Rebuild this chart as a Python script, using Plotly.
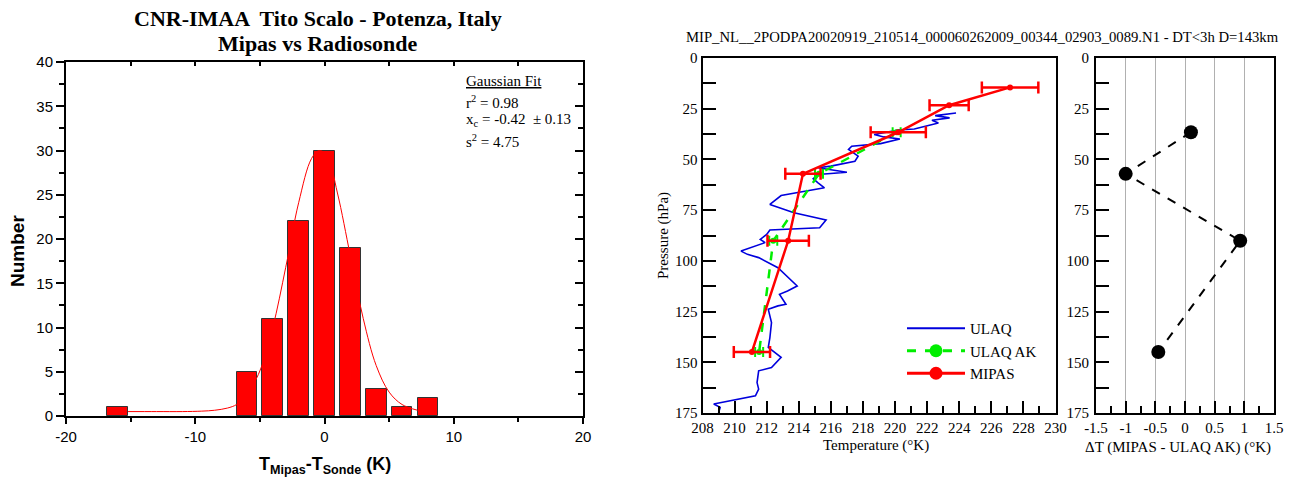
import plotly.graph_objects as go

# ---------------- Left panel: histogram ----------------
bin_centers = [-16, -6, -4, -2, 0, 2, 4, 6, 8]
counts = [1, 5, 11, 22, 30, 19, 3, 1, 2]
fit_x = [-15.2, -13, -11, -9.5, -8.5, -7.5, -6.8, -6, -5, -4, -3, -2, -1, -0.4,
         0.2, 1, 2, 3, 4, 5, 6, 7.2]
fit_y = [0.5, 0.5, 0.5, 0.55, 0.65, 0.9, 1.3, 2.4, 5.1, 10.0, 16.8, 24.1, 29.1, 30.0,
         29.4, 25.2, 18.1, 11.0, 5.7, 2.7, 1.3, 0.65]
hist_xticks = [-20, -10, 0, 10, 20]
hist_xticktext = ["-20", "-10", "0", "10", "20"]

# ---------------- Middle panel: temperature profiles ----------------
ulaq_T = [223.8, 222.5, 223.4, 222.3, 222.7, 221.2, 220.2, 218.7, 219.3, 220.3,
          219.1, 217.3, 217.1, 217.7, 217.5, 216.0, 215.2, 217.0, 215.2, 214.9,
          215.2, 215.6, 212.9, 212.2, 213.7, 215.7, 215.3, 212.2, 212.0, 211.6,
          211.9, 210.4, 210.8, 211.5, 212.7, 213.9, 213.3, 212.8, 213.2, 212.7,
          212.1, 212.3, 212.2, 212.1, 212.9, 212.3, 211.5, 211.4, 211.5, 211.3,
          208.7, 209.1, 209.0]
ulaq_P = [27.1, 28.4, 29.5, 30.7, 32.0, 35.0, 35.5, 37.7, 38.9, 39.9,
          42.2, 43.5, 45.1, 48.4, 50.9, 53.3, 54.1, 56.3, 57.4, 59.5,
          61.5, 64.0, 67.8, 72.2, 76.3, 79.9, 83.7, 84.8, 87.0, 89.4,
          91.0, 95.2, 96.8, 98.4, 103.4, 112.4, 114.9, 116.5, 121.4, 122.2,
          123.9, 130.4, 137.8, 142.7, 147.6, 152.6, 154.2, 160.0, 163.2, 166.5,
          170.6, 172.2, 175.0]

mipas_P = [14.5, 23.3, 36.6, 57.1, 90.1, 144.9]
mipas_T = [227.17, 223.37, 220.2, 214.26, 213.34, 211.08]
mipas_err = [1.76, 1.22, 1.72, 1.1, 1.29, 1.13]

ak_P = [36.6, 57.1, 90.1, 144.9]
ak_T = [220.1, 215.26, 212.41, 211.53]
ak_err = [0.25, 0.25, 0.25, 0.25]

temp_ticks = [208, 210, 212, 214, 216, 218, 220, 222, 224, 226, 228, 230]
p_ticks = [0, 25, 50, 75, 100, 125, 150, 175]

# ---------------- Right panel: differences ----------------
dT = [0.1, -1.0, 0.93, -0.45]
dT_P = [36.6, 57.1, 90.1, 144.9]
dT_ticks = [-1.5, -1, -0.5, 0, 0.5, 1, 1.5]
dT_ticktext = ["-1.5", "-1", "-0.5", "0", "0.5", "1", "1.5"]

RED = "#ff0000"
GREEN = "#00ee00"
BLUE = "#0000dd"
SANS = "Liberation Sans, Arial, sans-serif"
SERIF = "Liberation Serif, Times New Roman, serif"

fig = go.Figure()

fig.add_trace(go.Bar(x=bin_centers, y=counts, width=1.6,
                     marker=dict(color=RED, line=dict(color="#333333", width=1)),
                     xaxis="x", yaxis="y", showlegend=False))
fig.add_trace(go.Scatter(x=fit_x, y=fit_y, mode="lines",
                         line=dict(color=RED, width=1, shape="spline"),
                         xaxis="x", yaxis="y", showlegend=False))
# invisible helper trace for mirrored tick axes
fig.add_trace(go.Scatter(x=[None], y=[None], mode="markers", xaxis="x2", yaxis="y2",
                         showlegend=False, hoverinfo="skip"))

fig.add_trace(go.Scatter(x=ulaq_T, y=ulaq_P, mode="lines",
                         line=dict(color=BLUE, width=1.6),
                         xaxis="x3", yaxis="y3", showlegend=False))
fig.add_trace(go.Scatter(x=ak_T, y=ak_P, mode="lines+markers",
                         line=dict(color=GREEN, width=2.5, dash="dash"),
                         marker=dict(color=GREEN, size=6),
                         error_x=dict(type="data", array=ak_err, color=GREEN,
                                      thickness=2, width=5),
                         xaxis="x3", yaxis="y3", showlegend=False))
fig.add_trace(go.Scatter(x=mipas_T, y=mipas_P, mode="lines+markers",
                         line=dict(color=RED, width=2.5),
                         marker=dict(color=RED, size=6),
                         error_x=dict(type="data", array=mipas_err, color=RED,
                                      thickness=2.5, width=6),
                         xaxis="x3", yaxis="y3", showlegend=False))

# legend entries
fig.add_trace(go.Scatter(x=[None], y=[None], mode="lines", name="ULAQ",
                         line=dict(color=BLUE, width=2), xaxis="x3", yaxis="y3"))
fig.add_trace(go.Scatter(x=[None], y=[None], mode="lines+markers", name="ULAQ AK",
                         line=dict(color=GREEN, width=3, dash="dash"),
                         marker=dict(color=GREEN, size=13), xaxis="x3", yaxis="y3"))
fig.add_trace(go.Scatter(x=[None], y=[None], mode="lines+markers", name="MIPAS",
                         line=dict(color=RED, width=3),
                         marker=dict(color=RED, size=13), xaxis="x3", yaxis="y3"))

fig.add_trace(go.Scatter(x=dT, y=dT_P, mode="lines+markers",
                         line=dict(color="black", width=2, dash="dash"),
                         marker=dict(color="black", size=14),
                         xaxis="x4", yaxis="y4", showlegend=False))

W, H = 1290, 481
def px(x):
    return x / W
def py(y):
    return 1 - y / H

left_dom = [px(66), px(583)]
left_ydom = [py(416), py(62)]
mid_dom = [px(702.5), px(1055.5)]
right_dom = [px(1096), px(1274)]
prof_ydom = [py(413), py(58)]

axis_common = dict(showgrid=False, zeroline=False, showline=True, linecolor="black",
                   linewidth=2, tickcolor="black", automargin=False)

fig.update_layout(
    width=W, height=H,
    margin=dict(l=0, r=0, t=0, b=0, pad=0, autoexpand=False),
    paper_bgcolor="white", plot_bgcolor="white",
    bargap=0,
    xaxis=dict(domain=left_dom, range=[-20, 20], anchor="y", mirror=True,
               tickmode="array", tickvals=hist_xticks, ticktext=hist_xticktext,
               ticks="outside", ticklen=6, tickwidth=2,
               minor=dict(tickmode="linear", tick0=-20, dtick=5, ticks="outside",
                          ticklen=4, tickwidth=1.5, tickcolor="black"),
               tickfont=dict(family=SANS, size=15, color="black"), **axis_common),
    yaxis=dict(domain=left_ydom, range=[0, 40], anchor="x", mirror=True,
               tickmode="linear", tick0=0, dtick=5,
               ticks="outside", ticklen=8, tickwidth=2,
               minor=dict(tickmode="linear", tick0=0, dtick=2.5, ticks="outside",
                          ticklen=5, tickwidth=1.5, tickcolor="black"),
               tickfont=dict(family=SANS, size=15, color="black"), **axis_common),
    xaxis2=dict(overlaying="x", side="top", anchor="y2", range=[-20, 20],
                tickmode="linear", tick0=-20, dtick=5, ticks="inside", ticklen=4,
                tickwidth=1.5, tickcolor="black", showticklabels=False,
                showline=False, showgrid=False, zeroline=False, automargin=False),
    yaxis2=dict(overlaying="y", side="right", anchor="x2", range=[0, 40],
                tickmode="linear", tick0=0, dtick=5, ticks="inside", ticklen=8,
                tickwidth=2, tickcolor="black", showticklabels=False,
                minor=dict(tickmode="linear", tick0=0, dtick=2.5, ticks="inside",
                           ticklen=5, tickwidth=1.5, tickcolor="black"),
                showline=False, showgrid=False, zeroline=False, automargin=False),
    xaxis3=dict(domain=mid_dom, range=[208, 230], anchor="y3", mirror=True,
                tickmode="array", tickvals=temp_ticks,
                ticks="inside", ticklen=12, tickwidth=2,
                minor=dict(tickmode="linear", tick0=208, dtick=1, ticks="inside",
                           ticklen=7, tickwidth=2, tickcolor="black"),
                ticklabelstandoff=0,
                tickfont=dict(family=SERIF, size=15, color="black"), **axis_common),
    yaxis3=dict(domain=prof_ydom, range=[175, 0], anchor="x3", mirror=True,
                tickmode="array", tickvals=p_ticks,
                ticks="inside", ticklen=13, tickwidth=2,
                minor=dict(tickmode="linear", tick0=0, dtick=12.5, ticks="inside",
                           ticklen=13, tickwidth=2, tickcolor="black"),
                tickfont=dict(family=SERIF, size=15, color="black"), **axis_common),
    xaxis4=dict(domain=right_dom, range=[-1.5, 1.5], anchor="y4", mirror=True,
                tickmode="array", tickvals=dT_ticks, ticktext=dT_ticktext,
                ticks="inside", ticklen=12, tickwidth=2,
                minor=dict(tickmode="linear", tick0=-1.5, dtick=0.25, ticks="inside",
                           ticklen=7, tickwidth=2, tickcolor="black"),
                ticklabelstandoff=0,
                tickfont=dict(family=SERIF, size=15, color="black"),
                showgrid=True, gridcolor="#b0b0b0", gridwidth=1,
                zeroline=False, showline=True, linecolor="black", linewidth=2,
                tickcolor="black", automargin=False),
    yaxis4=dict(domain=prof_ydom, range=[175, 0], anchor="x4", mirror=True,
                tickmode="array", tickvals=p_ticks,
                ticks="inside", ticklen=13, tickwidth=2,
                minor=dict(tickmode="linear", tick0=0, dtick=12.5, ticks="inside",
                           ticklen=13, tickwidth=2, tickcolor="black"),
                ticklabelstandoff=2,
                tickfont=dict(family=SERIF, size=15, color="black"), **axis_common),
    legend=dict(x=px(902), y=py(312), xanchor="left", yanchor="top",
                bgcolor="rgba(0,0,0,0)", itemwidth=58, tracegroupgap=0,
                font=dict(family=SERIF, size=15, color="black")),
)

ann = []
ann.append(dict(text="<b>CNR-IMAA  Tito Scalo - Potenza, Italy</b>", x=px(318), y=py(18),
                font=dict(family=SERIF, size=22, color="black")))
ann.append(dict(text="<b>Mipas vs Radiosonde</b>", x=px(318), y=py(43),
                font=dict(family=SERIF, size=22, color="black")))
ann.append(dict(text="<b>Number</b>", x=px(17), y=py(251), textangle=-90,
                font=dict(family=SANS, size=19, color="black")))
ann.append(dict(text="<b>T<sub>Mipas</sub>-T<sub>Sonde</sub> (K)</b>", x=px(325), y=py(465),
                font=dict(family=SANS, size=18, color="black")))
gauss_lines = ["<u>Gaussian Fit</u>", "r<sup>2</sup> = 0.98",
               "x<sub>c</sub> = -0.42  ± 0.13", "s<sup>2</sup> = 4.75"]
gauss_y = [81, 102, 120, 141]
for t, yy in zip(gauss_lines, gauss_y):
    ann.append(dict(text=t, x=px(464), y=py(yy), xanchor="left",
                    font=dict(family=SERIF, size=15, color="black")))
ann.append(dict(text="MIP_NL__2PODPA20020919_210514_000060262009_00344_02903_0089.N1 - DT<3h D=143km",
                x=px(983), y=py(37), font=dict(family=SERIF, size=14.7, color="black")))
ann.append(dict(text="Pressure (hPa)", x=px(663), y=py(236), textangle=-90,
                font=dict(family=SERIF, size=15, color="black")))
ann.append(dict(text="Temperature (°K)", x=px(876), y=py(445),
                font=dict(family=SERIF, size=15, color="black")))
ann.append(dict(text="ΔT (MIPAS - ULAQ AK) (°K)", x=px(1178), y=py(447),
                font=dict(family=SERIF, size=15, color="black")))
for a in ann:
    a.setdefault("xanchor", "center")
    a.update(xref="paper", yref="paper", yanchor="middle", showarrow=False)
fig.update_layout(annotations=ann)

fig.write_html("out.html")
